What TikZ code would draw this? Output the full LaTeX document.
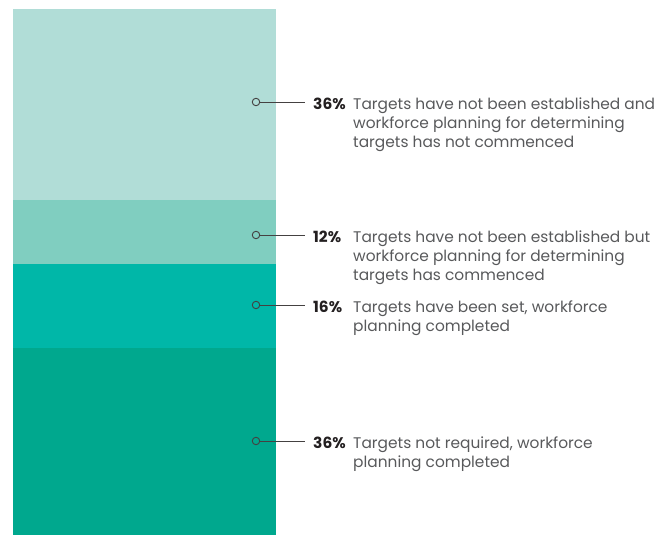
\documentclass[tikz,border=0pt]{standalone}
\usepackage{fontspec}
\setmainfont{Poppins}
\usetikzlibrary{positioning}
\definecolor{barpale}{HTML}{B1DDD7}
\definecolor{barlight}{HTML}{80CEC0}
\definecolor{barteal}{HTML}{00B7A8}
\definecolor{bardark}{HTML}{00A88E}
\definecolor{inkgrey}{HTML}{58595B}
\definecolor{inkdark}{HTML}{231F20}
\tikzset{
	dot/.style={circle, draw=inkdark!85, line width=0.9pt, inner sep=0pt, minimum size=7.5pt},
	leader/.style={draw=inkdark!85, line width=0.9pt},
	pct/.style={font=\fontsize{15.4}{19}\selectfont\bfseries, text=inkdark, inner sep=0pt, anchor=north west},
	desc/.style={font=\fontsize{15.4}{19}\selectfont, text=inkgrey, align=left, inner sep=0pt, anchor=north west}
}
\begin{document}
\begin{tikzpicture}[x=1pt, y=-1pt]
			%%%%% START %%%%%
			\useasboundingbox (0, 0) rectangle (670, 535);
			
			% stacked bar
			\fill[barpale] (13, 9) rectangle (276, 200);
			\fill[barlight] (13, 200) rectangle (276, 264);
			\fill[barteal] (13, 264) rectangle (276, 348);
			\fill[bardark] (13, 348) rectangle (276, 535);
			
			% labels
			\node[dot] (d1) at (256, 102) {};
			\coordinate (e1) at (305, 102);
			\node[pct] (p1) at (313, 98) {36\%};
			\node[desc] (t1) at (353, 98) {Targets have not been established and\\workforce planning for determining\\targets has not commenced};
			\draw[leader] (d1) -- (e1);
			
			\node[dot] (d2) at (256, 235) {};
			\coordinate (e2) at (305, 235);
			\node[pct] (p2) at (313, 231) {12\%};
			\node[desc] (t2) at (353, 231) {Targets have not been established but\\workforce planning for determining\\targets has commenced};
			\draw[leader] (d2) -- (e2);
			
			\node[dot] (d3) at (256, 305) {};
			\coordinate (e3) at (305, 305);
			\node[pct] (p3) at (313, 301) {16\%};
			\node[desc] (t3) at (353, 301) {Targets have been set, workforce\\planning completed};
			\draw[leader] (d3) -- (e3);
			
			\node[dot] (d4) at (256, 441) {};
			\coordinate (e4) at (305, 441);
			\node[pct] (p4) at (313, 437) {36\%};
			\node[desc] (t4) at (353, 437) {Targets not required, workforce\\planning completed};
			\draw[leader] (d4) -- (e4);
			
			%%%%% END %%%%%
		\end{tikzpicture}
\end{document}
